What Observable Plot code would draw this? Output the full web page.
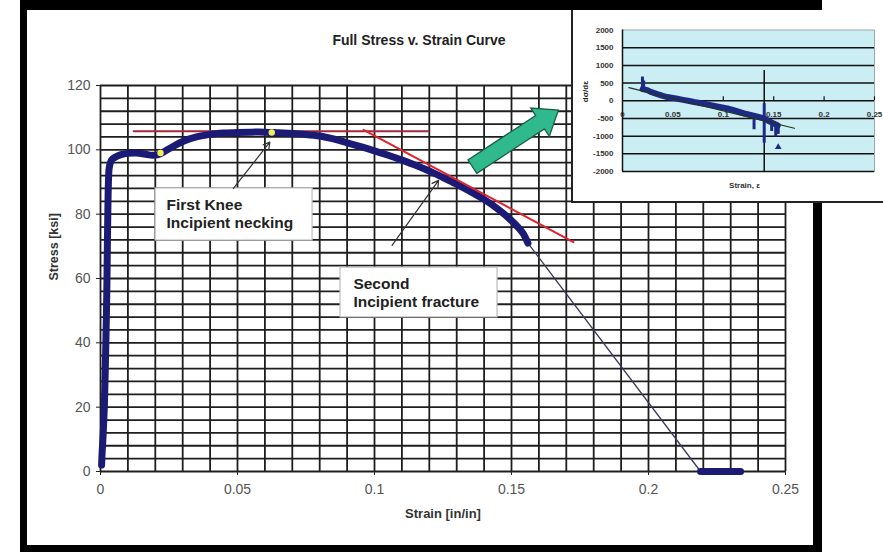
<!DOCTYPE html>
<html>
<head>
<meta charset="utf-8">
<script src="https://cdn.jsdelivr.net/npm/d3@7"></script>
<script src="https://cdn.jsdelivr.net/npm/@observablehq/plot@0.6"></script>
<style>
  html, body { margin: 0; padding: 0; background: #fff; }
  #wrap { position: relative; width: 883px; height: 552px; overflow: hidden; font-family: "Liberation Sans", Arial, sans-serif; }
  #main { position: absolute; left: 0; top: 0; }
  #frame { position: absolute; left: 20px; top: 0; width: 802px; height: 552px; box-sizing: border-box;
           border-style: solid; border-color: #000; border-width: 10px 9px 7px 7px; pointer-events: none; }
  #inset { position: absolute; left: 571px; top: 10px; width: 312px; height: 191px; background: #fff;
           border-left: 2px solid #222; border-bottom: 2px solid #222; }
</style>
</head>
<body>
<div id="wrap">
  <div id="main"></div>
  <div id="frame"></div>
  <div id="inset"></div>
</div>
<script>
// ---------- main chart data ----------
const curveStrain = [0.0004, 0.0006, 0.0010, 0.0014, 0.0017, 0.0020, 0.0023, 0.0025, 0.0027, 0.0029,
  0.0032, 0.0040, 0.0055, 0.0075, 0.0100, 0.0130, 0.0160, 0.0190, 0.0210, 0.0230, 0.0260, 0.0300,
  0.0350, 0.0400, 0.0450, 0.0500, 0.0550, 0.0600, 0.0650, 0.0700, 0.0750, 0.0800, 0.0850, 0.0900,
  0.0950, 0.1000, 0.1050, 0.1100, 0.1150, 0.1200, 0.1250, 0.1300, 0.1350, 0.1400, 0.1450, 0.1500,
  0.1540, 0.1560];
const curveStress = [2, 6, 12, 20, 30, 42, 56, 70, 82, 90,
  94.5, 96.8, 97.8, 98.5, 98.9, 99.0, 98.7, 98.3, 98.5, 99.3, 100.8, 102.6,
  104.0, 104.8, 105.2, 105.4, 105.5, 105.5, 105.3, 105.1, 104.8, 104.3, 103.4, 102.2,
  101.0, 99.7, 98.3, 96.8, 95.2, 93.4, 91.4, 89.3, 87.0, 84.6, 81.6, 78.0,
  74.3, 71.0];
const fractureStrain = [0.1560, 0.2190];
const fractureStress = [71.0, 0];
const brokenStrain = [0.2190, 0.2336];
const brokenStress = [0, 0];
const kneeStrain = [0.0219, 0.0625];
const kneeStress = [99.0, 105.4];
const plateauStrain = [0.0121, 0.1197];
const plateauStress = [105.8, 105.8];
const tangentStrain = [0.0960, 0.1726];
const tangentStress = [106.2, 71.3];

const xTicks = [0, 0.05, 0.1, 0.15, 0.2, 0.25];
const yTicks = [0, 20, 40, 60, 80, 100, 120];
const xGrid = d3.range(0, 26).map(i => i / 100);
const yGrid = d3.range(0, 31).map(i => i * 4);

const labelTitle = "Full Stress v. Strain Curve";
const labelX = "Strain [in/in]";
const labelY = "Stress [ksi]";

// annotation boxes (data coordinates)
const boxStrain1 = [0.0201, 0.0876];
const boxStrain2 = [0.0774, 0.1449];
const boxStress1 = [71.8, 47.9];
const boxStress2 = [88.0, 63.4];
const noteText = ["First Knee", "Incipient necking", "Second", "Incipient fracture"];
const noteStrain = [0.0241, 0.0241, 0.0923, 0.0923];
const noteStress = [82.8, 77.2, 58.4, 52.8];
const pointerFrom = [[0.0485, 88.0], [0.1064, 70.3]];
const pointerTo = [[0.0618, 102.4], [0.1234, 90.5]];
const greenArrowFrom = [0.1359, 94.6];
const greenArrowTo = [0.1673, 112.2];

// ---------- inset data ----------
const insetBandStrain = [0.0200, 0.0246, 0.0280, 0.0345, 0.0400, 0.0445, 0.0500, 0.0544, 0.0600,
  0.0650, 0.0710, 0.0780, 0.0876, 0.0950, 0.1040, 0.1120, 0.1207, 0.1270, 0.1340, 0.1406, 0.1460,
  0.1500, 0.1540];
const insetBandValue = [330, 300, 250, 190, 140, 105, 80, 55, 25,
  0, -35, -70, -125, -165, -215, -280, -355, -400, -450, -500, -590,
  -640, -700];
const spikeStrain = [0.0198, 0.0210, 0.1305, 0.1406, 0.1480, 0.1520, 0.1545];
const spikeLow = [290, 280, -820, -1200, -870, -1020, -950];
const spikeHigh = [670, 560, -480, -80, -600, -650, -700];
const outlierStrain = [0.1545];
const outlierValue = [-1310];
const trendStrain = [0.0063, 0.1706];
const trendValue = [369, -778];
const markerStrain = 0.1406;
const markerRange = [-2000, 853];
const insetXTicks = [0, 0.05, 0.1, 0.15, 0.2, 0.25];
const insetYTicks = [2000, 1500, 1000, 500, 0, -500, -1000, -1500, -2000];
const insetGrid = [1500, 1000, 500, 0, -500, -1000, -1500, -2000];
const insetLabelY = "dσ/dε";
const insetLabelX = "Strain, ε";

// ---------- build rows ----------
const curve = curveStrain.map((s, i) => ({strain: s, stress: curveStress[i]}));
const fracture = fractureStrain.map((s, i) => ({strain: s, stress: fractureStress[i]}));
const broken = brokenStrain.map((s, i) => ({strain: s, stress: brokenStress[i]}));
const knees = kneeStrain.map((s, i) => ({strain: s, stress: kneeStress[i]}));
const plateau = plateauStrain.map((s, i) => ({strain: s, stress: plateauStress[i]}));
const tangent = tangentStrain.map((s, i) => ({strain: s, stress: tangentStress[i]}));
const boxes = boxStrain1.map((s, i) => ({x1: s, x2: boxStrain2[i], y1: boxStress1[i], y2: boxStress2[i]}));
const notes = noteText.map((t, i) => ({text: t, strain: noteStrain[i], stress: noteStress[i]}));
const pointers = pointerFrom.map((p, i) => ({x1: p[0], y1: p[1], x2: pointerTo[i][0], y2: pointerTo[i][1]}));

const font = "'Liberation Sans', Arial, Helvetica, sans-serif";
const navy = "#1b1b76";

const main = Plot.plot({
  width: 883, height: 552,
  marginLeft: 100, marginRight: 98, marginTop: 85, marginBottom: 81,
  x: {domain: [0, 0.25]},
  y: {domain: [0, 120]},
  style: {fontFamily: font, fontSize: "14px", background: "#fff", overflow: "visible"},
  marks: [
    Plot.ruleX(xGrid, {stroke: "#1e1e1e", strokeWidth: 1.8}),
    Plot.ruleY(yGrid, {stroke: "#1e1e1e", strokeWidth: 1.8}),
    Plot.axisY(yTicks, {tickSize: 4, tickPadding: 6, stroke: "#222", fill: "#555", label: null, tickFormat: d => String(d)}),
    Plot.axisX(xTicks, {tickSize: 4, tickPadding: 9, stroke: "#222", fill: "#555", label: null, tickFormat: d => String(d)}),
    Plot.text([labelTitle], {text: d => d, frameAnchor: "top", dx: -24, dy: -50, fontWeight: "bold", fontSize: 14, fill: "#222"}),
    Plot.text([labelY], {text: d => d, frameAnchor: "left", dx: -47, dy: 2, rotate: -90, fontWeight: "bold", fontSize: 12.5, fill: "#333"}),
    Plot.text([labelX], {text: d => d, frameAnchor: "bottom", dx: 0, dy: 46, fontWeight: "bold", fontSize: 13, fill: "#333"}),
    Plot.line(plateau, {x: "strain", y: "stress", stroke: "#a3283e", strokeWidth: 2}),
    Plot.line(fracture, {x: "strain", y: "stress", stroke: "#3a3a62", strokeWidth: 1.3}),
    Plot.line(curve, {x: "strain", y: "stress", stroke: navy, strokeWidth: 7, strokeLinejoin: "round", strokeLinecap: "round", curve: "catmull-rom"}),
    Plot.line(broken, {x: "strain", y: "stress", stroke: navy, strokeWidth: 7, strokeLinecap: "round"}),
    Plot.line(tangent, {x: "strain", y: "stress", stroke: "#e3212b", strokeWidth: 2}),
    Plot.dot(knees, {x: "strain", y: "stress", r: 3.2, fill: "#f2ee55", stroke: "none"}),
    Plot.rect(boxes, {x1: "x1", x2: "x2", y1: "y1", y2: "y2", fill: "#fff", stroke: "#bdbdbd", strokeWidth: 1.2}),
    Plot.text(notes, {x: "strain", y: "stress", text: "text", textAnchor: "start", fontWeight: "bold", fontSize: 15.5, fill: "#222"}),
    Plot.arrow(pointers, {x1: "x1", y1: "y1", x2: "x2", y2: "y2", stroke: "#333", strokeWidth: 1.2, headLength: 9})
  ]
});
document.getElementById("main").appendChild(main);

// green block arrow, positioned through the chart's scales
{
  const sx = main.scale("x"), sy = main.scale("y");
  const p0 = [sx.apply(greenArrowFrom[0]), sy.apply(greenArrowFrom[1])];
  const p1 = [sx.apply(greenArrowTo[0]), sy.apply(greenArrowTo[1])];
  const dx = p1[0] - p0[0], dy = p1[1] - p0[1], L = Math.hypot(dx, dy);
  const d = [dx / L, dy / L], n = [-d[1], d[0]];
  const w = 8, h = 17, hl = 22;
  const at = (t, s) => [p0[0] + d[0] * t + n[0] * s, p0[1] + d[1] * t + n[1] * s];
  const pts = [at(0, w), at(L - hl, w), at(L - hl, h), at(L, 0), at(L - hl, -h), at(L - hl, -w), at(0, -w)];
  d3.select(main).append("path")
    .attr("d", "M" + pts.map(p => p.join(",")).join("L") + "Z")
    .attr("fill", "#2fb98c").attr("stroke", "#1d5e48").attr("stroke-width", 1.3).attr("stroke-linejoin", "miter");
}

// ---------- inset chart ----------
const band = insetBandStrain.map((s, i) => ({strain: s, v: insetBandValue[i]}));
const spikes = spikeStrain.map((s, i) => ({strain: s, lo: spikeLow[i], hi: spikeHigh[i]}));
const outliers = outlierStrain.map((s, i) => ({strain: s, v: outlierValue[i]}));
const trend = trendStrain.map((s, i) => ({strain: s, v: trendValue[i]}));

const inset = Plot.plot({
  width: 312, height: 191,
  marginLeft: 49, marginRight: 11, marginTop: 19.5, marginBottom: 30,
  x: {domain: [0, 0.25], axis: null},
  y: {domain: [-2000, 2000], axis: null},
  style: {fontFamily: font, fontSize: "8px", background: "#fff", overflow: "visible"},
  marks: [
    Plot.frame({fill: "#cbedf4", stroke: "#9aa"}),
    Plot.ruleY(insetGrid, {stroke: "#111", strokeWidth: 1.5}),
    Plot.ruleX([0], {stroke: "#111", strokeWidth: 1.5}),
    Plot.ruleX(insetXTicks.slice(1), {x: d => d, y1: 0, y2: 110, stroke: "#111", strokeWidth: 1.2}),
    Plot.text(insetYTicks, {x: 0, y: d => d, dx: -9, textAnchor: "end", text: d => String(d), fill: "#333", fontWeight: "bold"}),
    Plot.text(insetXTicks, {x: d => d, y: 0, dy: 14, text: d => String(d), fill: "#333", fontWeight: "bold"}),
    Plot.text([insetLabelY], {text: d => d, frameAnchor: "left", dx: -37, dy: 1.5, rotate: -90, fill: "#222", fontWeight: "bold"}),
    Plot.text([insetLabelX], {text: d => d, frameAnchor: "bottom", dx: -4, dy: 16, fill: "#333", fontWeight: "bold"}),
    Plot.ruleX([markerStrain], {x: d => d, y1: markerRange[0], y2: markerRange[1], stroke: "#111", strokeWidth: 1.5}),
    Plot.line(band, {x: "strain", y: "v", stroke: "#1c2a86", strokeWidth: 6, strokeLinecap: "round", strokeLinejoin: "round"}),
    Plot.ruleX(spikes, {x: "strain", y1: "lo", y2: "hi", stroke: "#1c2a86", strokeWidth: 3}),
    Plot.dot(outliers, {x: "strain", y: "v", r: 2.5, symbol: "triangle", fill: "#1c2a86"}),
    Plot.line(trend, {x: "strain", y: "v", stroke: "#243424", strokeWidth: 1.2})
  ]
});
document.getElementById("inset").appendChild(inset);
</script>
</body>
</html>
